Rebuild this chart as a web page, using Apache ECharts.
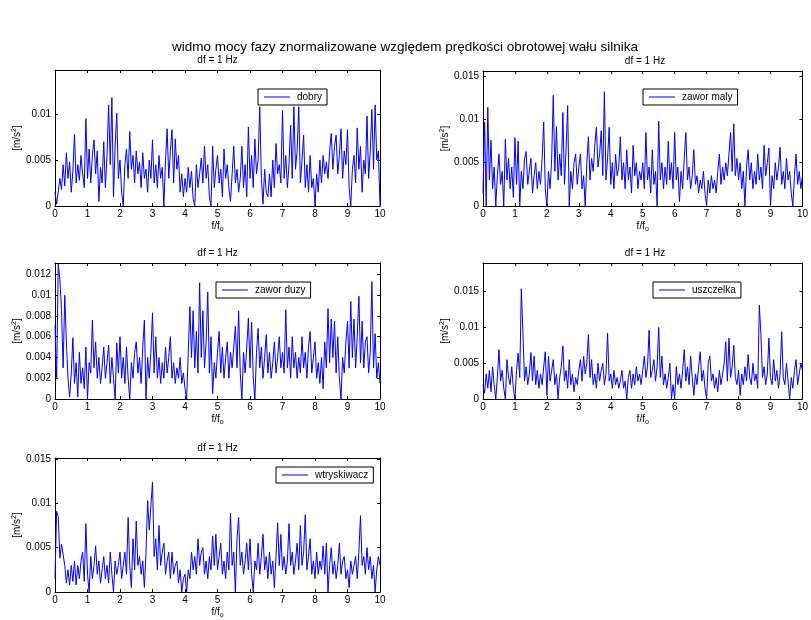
<!DOCTYPE html>
<html>
<head>
<meta charset="utf-8">
<script src="https://cdn.jsdelivr.net/npm/echarts@6/dist/echarts.min.js"></script>
<style>html,body{margin:0;padding:0;background:#fff}#c{width:811px;height:620px}</style>
</head>
<body>
<div id="c"></div>
<script>
// Spectrum amplitudes in units of 1e-4 m/s^2, sampled every 0.05 f/f0 from 0 to 10
const F_STEP = 0.05;
const UNIT = 1e-4;
const dobry = [15,2,0,30,18,45,22,58,30,48,15,38,78,25,45,28,55,35,20,95,
30,62,25,55,72,35,60,5,42,25,70,20,55,110,45,118,10,65,101,30,
50,15,0,45,62,30,81,40,55,25,60,35,48,20,58,30,40,15,50,30,
72,25,45,20,55,30,42,0,50,84,30,60,83,25,73,40,55,15,35,10,
30,15,42,20,38,8,0,45,20,35,52,25,65,30,45,10,0,65,20,40,
55,25,40,10,62,30,45,20,5,35,65,25,40,15,30,65,20,45,10,86,
30,55,20,73,35,50,108,30,2,40,15,10,35,10,50,20,68,35,45,25,
104,30,55,20,45,88,30,108,40,60,108,25,50,77,20,45,15,55,20,30,
0,35,15,50,25,55,35,48,30,60,79,40,65,77,35,55,84,30,60,45,
83,20,0,40,55,25,85,40,65,15,50,35,98,30,60,105,40,110,50,60,0];
const zaworMaly = [15,97,0,114,30,76,20,45,0,35,60,25,40,0,77,30,55,20,45,10,
79,25,75,0,40,20,55,63,25,40,55,15,35,50,20,40,25,55,97,20,
0,40,20,55,128,40,92,30,60,35,108,25,65,116,0,40,20,50,60,25,
45,60,20,35,0,50,80,30,55,40,70,91,45,60,87,35,132,30,55,91,
25,50,20,60,35,45,80,30,50,20,65,30,45,15,70,35,50,20,40,30,
50,20,85,30,45,15,65,25,40,0,98,30,50,20,45,25,75,30,50,20,
85,30,45,5,40,20,55,85,30,45,20,35,65,25,35,15,30,20,40,15,
0,30,15,35,20,30,15,40,60,25,45,30,50,35,60,85,40,95,35,55,
30,50,20,40,0,45,65,30,50,20,40,25,60,30,45,20,70,35,50,67,
0,35,20,50,30,45,68,25,40,20,55,30,40,15,0,35,60,25,40,20,35];
const zaworDuzy = [71,20,130,115,86,30,100,55,20,2,25,59,15,35,2,45,15,30,10,50,
0,35,25,76,30,55,20,40,15,30,50,20,35,52,15,40,20,0,54,25,
60,20,40,15,50,20,0,35,20,45,55,25,40,15,50,76,0,40,20,45,
83,25,60,20,40,15,35,20,50,25,40,60,20,35,15,30,20,40,15,25,
10,0,45,89,40,85,30,65,25,112,40,85,30,55,103,25,60,5,35,20,
45,65,25,50,20,40,55,20,45,30,50,70,30,85,25,0,45,25,50,78,
30,74,20,0,45,68,30,50,20,40,62,25,45,20,35,55,25,40,60,30,
45,25,86,30,50,20,60,30,45,20,40,25,60,30,45,20,50,65,25,40,
55,20,35,15,40,10,55,30,87,35,77,40,75,25,60,20,0,40,25,55,
75,30,94,40,77,30,60,99,35,75,30,55,60,25,45,113,30,63,20,35,15];
const uszczelka = [20,8,35,15,40,10,45,20,0,30,69,25,40,15,0,55,30,20,45,15,
0,40,64,30,154,92,25,45,20,35,65,25,60,20,40,15,35,20,45,66,
5,60,25,40,55,20,35,0,30,45,74,25,40,15,55,20,35,10,30,20,
40,55,25,60,35,50,90,30,55,20,35,15,50,25,40,50,20,35,92,25,
35,15,40,20,30,15,25,40,15,25,0,30,40,15,35,20,45,25,35,20,
40,60,30,45,96,30,40,55,25,45,100,30,60,20,35,15,30,50,0,20,
0,45,20,35,15,40,69,25,45,20,60,30,5,35,20,45,66,25,40,15,
0,50,60,25,35,15,30,10,40,20,35,50,80,25,85,30,45,75,30,20,
40,5,35,20,45,25,62,30,20,50,25,35,15,131,90,30,45,20,35,85,
30,20,55,25,40,15,35,94,30,20,50,25,0,30,15,40,55,20,35,50,40];
const wtryskiwacz = [15,91,85,38,54,55,30,10,25,8,30,12,35,8,30,15,35,45,12,77,
20,0,40,15,30,52,20,35,10,25,40,15,30,10,45,20,0,35,20,30,
45,15,30,45,20,84,30,5,60,25,80,30,40,20,35,5,45,103,70,97,
124,40,60,25,75,30,45,55,20,35,45,15,45,20,30,35,10,25,0,15,
20,0,25,15,45,25,40,20,60,30,45,50,20,35,15,40,25,63,30,65,
25,40,55,20,35,15,45,25,89,30,45,0,60,84,30,45,20,35,55,25,
60,20,0,35,25,55,20,40,65,25,40,15,45,20,35,5,40,78,30,65,
25,40,20,35,77,30,45,20,35,55,25,75,30,45,87,25,40,60,20,35,
15,45,20,35,25,52,20,55,0,30,50,20,35,15,30,55,20,35,40,15,
25,5,35,20,30,40,15,45,86,30,40,20,50,25,40,15,30,0,25,40,30];

const seriesNames = ['dobry', 'zawor maly', 'zawor duzy', 'uszczelka', 'wtryskiwacz'];
const seriesValues = [dobry, zaworMaly, zaworDuzy, uszczelka, wtryskiwacz];
const yMax = [0.0148, 0.0156, 0.0131, 0.019, 0.0151];
const yStep = [0.005, 0.005, 0.002, 0.005, 0.005];
const xTickLabels = [0,1,2,3,4,5,6,7,8,9,10];
const mainTitle = 'widmo mocy fazy znormalizowane względem prędkości obrotowej wału silnika';
const subTitle = 'df = 1 Hz';

// layout (pixels)
const grids = [
  {left:55, top:70, width:325, height:136},
  {left:483, top:71, width:324, height:135},
  {left:55, top:263, width:325, height:136},
  {left:483, top:263, width:324, height:136},
  {left:55, top:458, width:325, height:135}
];
const legendPos = [
  {left:258, top:89}, {left:643, top:89}, {left:216, top:282}, {left:653, top:282}, {left:276, top:467}
];

const FONT = 'Liberation Sans, Arial, Helvetica, sans-serif';
const BLUE = '#0000ff';
const axisLineStyle = {show:true, onZero:false, lineStyle:{color:'#000', width:1}};
const tickStyle = {show:true, inside:true, length:3, lineStyle:{color:'#000', width:1}};

const option = {
  animation:false,
  backgroundColor:'#fff',
  grid:[], xAxis:[], yAxis:[], series:[], legend:[],
  graphic:[]
};

option.graphic.push({type:'text', x:405, y:47, style:{text:mainTitle, fill:'#000', font:'13.5px ' + FONT, align:'center', verticalAlign:'middle', textAlign:'center', textVerticalAlign:'middle'}});

grids.forEach((g, i) => {
  option.grid.push(Object.assign({containLabel:false}, g));
  const fmtY = v => {
    const k = Math.round(v / yStep[i]);
    if (Math.abs(v - k * yStep[i]) > 1e-9) return '';
    return String(parseFloat(v.toFixed(4)));
  };
  option.xAxis.push({
    type:'value', gridIndex:i, min:0, max:10, interval:1, position:'bottom',
    axisLine:axisLineStyle, axisTick:tickStyle, splitLine:{show:false},
    axisLabel:{color:'#000', fontSize:10, fontFamily:FONT, margin:3,
      formatter: v => (xTickLabels.indexOf(v) >= 0 ? String(v) : '')},
    name:'f/f{sub|o}', nameLocation:'middle', nameGap:14,
    nameTextStyle:{color:'#000', fontSize:10, fontFamily:FONT,
      rich:{sub:{fontSize:7, fontFamily:FONT, color:'#000', padding:[6,0,0,0]}}}
  });
  option.xAxis.push({
    type:'value', gridIndex:i, min:0, max:10, interval:1, position:'top',
    axisLine:axisLineStyle, axisTick:tickStyle, splitLine:{show:false}, axisLabel:{show:false}
  });
  option.yAxis.push({
    type:'value', gridIndex:i, min:0, max:yMax[i], interval:yStep[i], position:'left',
    axisLine:axisLineStyle, axisTick:tickStyle, splitLine:{show:false},
    axisLabel:{color:'#000', fontSize:10, fontFamily:FONT, margin:4, formatter:fmtY, showMaxLabel:false},
    name:'[m/s{sup|2}]', nameLocation:'middle', nameGap:30,
    nameTextStyle:{color:'#000', fontSize:10, fontFamily:FONT,
      rich:{sup:{fontSize:7, fontFamily:FONT, color:'#000', padding:[0,0,6,0]}}}
  });
  option.yAxis.push({
    type:'value', gridIndex:i, min:0, max:yMax[i], interval:yStep[i], position:'right',
    axisLine:axisLineStyle, axisTick:tickStyle, splitLine:{show:false}, axisLabel:{show:false}
  });
  option.series.push({
    name:seriesNames[i], type:'line', xAxisIndex:2 * i, yAxisIndex:2 * i,
    symbol:'none', showSymbol:false, silent:true,
    lineStyle:{color:BLUE, width:1}, itemStyle:{color:BLUE},
    data: seriesValues[i].map((v, k) => [k * F_STEP, v * UNIT])
  });
  option.legend.push({
    data:[{name:seriesNames[i], icon:'rect'}], left:legendPos[i].left, top:legendPos[i].top,
    orient:'horizontal', backgroundColor:'#fff', borderColor:'#000', borderWidth:1,
    padding:[3,5,3,6], itemWidth:26, itemHeight:1, itemGap:4, selectedMode:false,
    itemStyle:{color:BLUE},
    textStyle:{color:'#000', fontSize:10, fontFamily:FONT, padding:[1,0,0,2]}
  });
  option.graphic.push({type:'text', x:g.left + g.width / 2, y:g.top - 10,
    style:{text:subTitle, fill:'#000', font:'10px ' + FONT, align:'center', verticalAlign:'middle', textAlign:'center', textVerticalAlign:'middle'}});
});

const chart = echarts.init(document.getElementById('c'), null, {renderer:'canvas'});
chart.setOption(option);
</script>
</body>
</html>
